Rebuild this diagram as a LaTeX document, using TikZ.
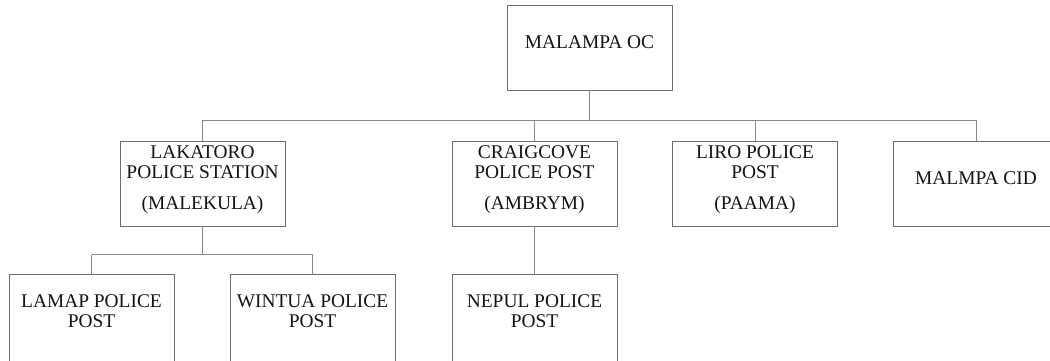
\documentclass[tikz,border=0pt]{standalone}
\usepackage{fontspec}
\setmainfont{Liberation Serif}
\begin{document}
\begin{tikzpicture}[x=1pt,y=-1pt,
  unit/.style={draw=boxgray, line width=0.9pt, fill=white,
    minimum width=165pt, minimum height=85pt, inner sep=0pt,
    align=center, text depth=11pt, text=black!92,
    font=\fontsize{19.4}{20}\selectfont},
  lowunit/.style={unit, minimum height=90pt, text depth=16pt},
  link/.style={draw=linkgray, line width=0.9pt}]
\definecolor{boxgray}{RGB}{110,110,110}
\definecolor{linkgray}{RGB}{135,135,135}
\useasboundingbox (0,0) rectangle (1050,360);
\clip (0,0) rectangle (1050,360);
\fill[white] (0,0) rectangle (1050,360);

% head office
\node[unit] (oc) at (589.5,47.5) {MALAMPA OC};

% second level
\node[unit] (lak) at (202.5,183.5) {LAKATORO\\POLICE STATION\\[11pt](MALEKULA)};
\node[unit] (cra) at (534.5,183.5) {CRAIGCOVE\\POLICE POST\\[11pt](AMBRYM)};
\node[unit] (liro) at (755,183.5) {LIRO POLICE\\POST\\[11pt](PAAMA)};
\node[unit] (cid) at (976,183.5) {MALMPA CID};

% third level (boxes run past the lower edge)
\node[lowunit] (lamap) at (91.5,319) {LAMAP POLICE\\POST};
\node[lowunit] (wintua) at (312.5,319) {WINTUA POLICE\\POST};
\node[lowunit] (nepul) at (534.5,319) {NEPUL POLICE\\POST};

% bus lines
\coordinate (busA) at (0,120);
\coordinate (busB) at (0,254.5);

\draw[link] (oc.south) -- (oc.south |- busA);
\draw[link] (lak.north |- busA) -- (cid.north |- busA);
\foreach \n in {lak,cra,liro,cid}
  \draw[link] (\n.north) -- (\n.north |- busA);

\draw[link] (lak.south) -- (lak.south |- busB);
\draw[link] (lamap.north |- busB) -- (wintua.north |- busB);
\foreach \n in {lamap,wintua}
  \draw[link] (\n.north) -- (\n.north |- busB);

\draw[link] (cra.south) -- (nepul.north);
\end{tikzpicture}
\end{document}
